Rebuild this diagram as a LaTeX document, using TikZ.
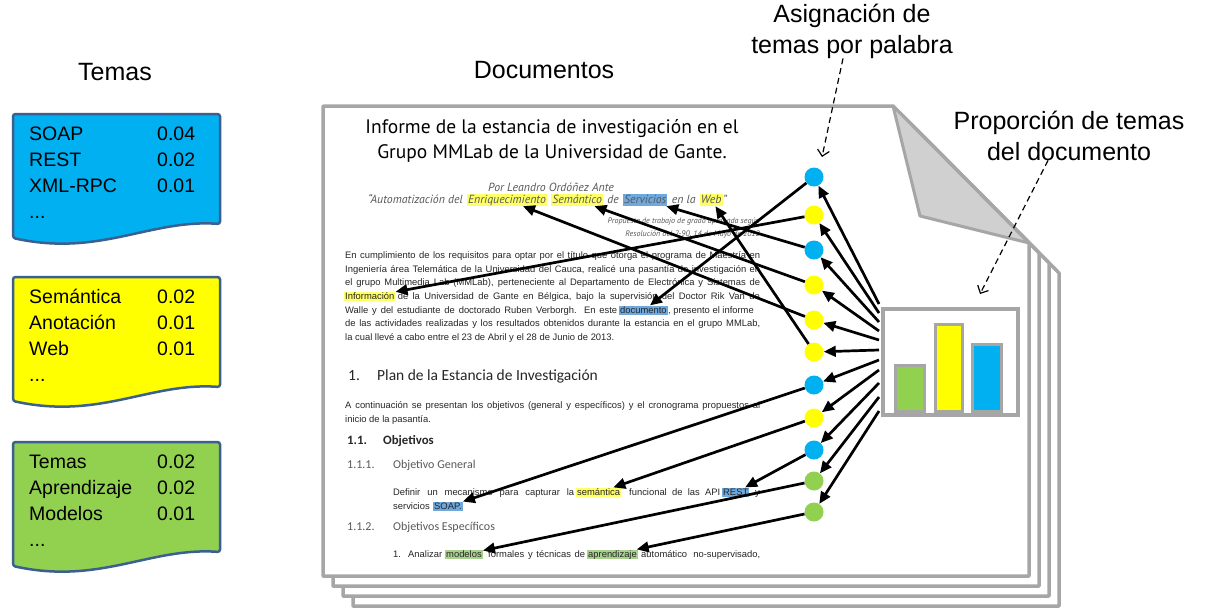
\documentclass[tikz,border=0pt]{standalone}
\usepackage{fontspec}
\setmainfont{Liberation Sans}
\newfontfamily\ptsans{PT Sans}
\newfontfamily\carlito{Carlito}
\usetikzlibrary{arrows.meta,calc}
\definecolor{pagegray}{HTML}{A6A6A6}
\definecolor{flapgray}{HTML}{D0D0D0}
\definecolor{tblue}{HTML}{00B0F0}
\definecolor{tyellow}{HTML}{FFFF00}
\definecolor{tgreen}{HTML}{92D050}
\definecolor{boxline}{HTML}{3B5F8E}
\definecolor{hlyellow}{HTML}{FFFF66}
\definecolor{hlblue}{HTML}{6FA8DC}
\definecolor{hlgreen}{HTML}{A9D18E}
\definecolor{doctext}{HTML}{262626}
\definecolor{subgray}{HTML}{595959}
\begin{document}
\begin{tikzpicture}[x=1pt,y=-1pt,
  arr/.style={line width=2.7pt,-{Triangle[length=12pt,width=10.5pt]}},
  dasharr/.style={line width=1.2pt,dash pattern=on 6pt off 4pt,-{Straight Barb[length=6pt,width=12pt,line width=1.2pt]}},
  page/.style={draw=pagegray,line width=3.5pt,fill=white,line join=round},
  dot/.style={circle,minimum size=19pt,inner sep=0,draw=none},
  w/.style={inner sep=0,anchor=base west},
  we/.style={inner sep=0,anchor=base east},
  wc/.style={inner sep=0,anchor=base},
  hl/.style={w,inner xsep=1pt,inner ysep=0pt,text height=7.4pt,text depth=2.4pt},
  hls/.style={w,inner xsep=1pt,inner ysep=0pt,text height=9pt,text depth=3pt},
  big/.style={font=\fontsize{25}{30}\selectfont,inner sep=0,anchor=base},
  boxtxt/.style={font=\fontsize{19.5}{24}\selectfont,inner sep=0,anchor=base west},
  body/.style={font=\fontsize{9.4}{11}\selectfont,text=doctext},
  bar/.style={draw=pagegray,line width=3pt,inner sep=0,anchor=south},
  topicbox/.style={draw=boxline,line width=2.5pt,rounded corners=2.5pt}
]
\useasboundingbox (0,0) rectangle (1209,613);
\fill[white] (0,0) rectangle (1209,613);

% headings
\node[big] (hTemas) at (115,80) {Temas};
\node[big] (hDocs) at (544,78) {Documentos};
\node[big] (asig1) at (852,22) {Asignación de};
\node[big] (asig2) at (852,53) {temas por palabra};
\node[big] (prop1) at (1069,129) {Proporción de temas};
\node[big] (prop2) at (1069,160) {del documento};

% topic boxes
\foreach \T/\c in {114/tblue,277/tyellow,442/tgreen}
  \draw[topicbox,fill=\c] (13,\T) -- (220,\T) -- (220,\T+110) .. controls (150,\T+105) and (100,\T+143) .. (13,\T+124) -- cycle;
\node[boxtxt] (k1) at (29,140) {SOAP};        \node[boxtxt] (v1) at (157,140) {0.04};
\node[boxtxt] (k2) at (29,166) {REST};        \node[boxtxt] (v2) at (157,166) {0.02};
\node[boxtxt] (k3) at (29,192) {XML-RPC};     \node[boxtxt] (v3) at (157,192) {0.01};
\node[boxtxt] (k4) at (29,218) {...};
\node[boxtxt] (k5) at (29,303) {Semántica};   \node[boxtxt] (v5) at (157,303) {0.02};
\node[boxtxt] (k6) at (29,329) {Anotación};   \node[boxtxt] (v6) at (157,329) {0.01};
\node[boxtxt] (k7) at (29,355) {Web};         \node[boxtxt] (v7) at (157,355) {0.01};
\node[boxtxt] (k8) at (29,381) {...};
\node[boxtxt] (k9) at (29,468) {Temas};       \node[boxtxt] (v9) at (157,468) {0.02};
\node[boxtxt] (k10) at (29,494) {Aprendizaje};\node[boxtxt] (v10) at (157,494) {0.02};
\node[boxtxt] (k11) at (29,520) {Modelos};    \node[boxtxt] (v11) at (157,520) {0.01};
\node[boxtxt] (k12) at (29,546) {...};

% stacked pages
\foreach \k in {3,2,1}
  \draw[page,shift={(10*\k,10*\k)}] (323,106) -- (893,106) -- (1029,243) -- (1029,576) -- (323,576) -- cycle;
\draw[page] (323,106) -- (893,106) -- (1029,243) -- (1029,576) -- (323,576) -- cycle;
\draw[draw=pagegray,fill=flapgray,line width=3pt,line join=round] (893,106) -- (920,216) -- (1029,243) -- cycle;

% document title
\node[wc,font={\ptsans\fontsize{19.5}{21}\selectfont}] (t1) at (552,133) {Informe de la estancia de investigación en el};
\node[wc,font={\ptsans\fontsize{19.5}{21}\selectfont}] (t2) at (552,158) {Grupo MMLab de la Universidad de Gante.};
\begin{scope}[font={\ptsans\itshape\fontsize{11.8}{12}\selectfont},text=subgray]
\node[wc] (auth) at (551,191) {Por Leandro Ordóñez Ante};
\node[w] (st1) at (368,203) {“Automatización del};
\node[hls,fill=hlyellow] (wEnr) at ([xshift=4pt]st1.base east) {Enriquecimiento};
\node[hls,fill=hlyellow] (wSem) at ([xshift=4pt]wEnr.base east) {Semántico};
\node[w] (st2) at ([xshift=4pt]wSem.base east) {de};
\node[hls,fill=hlblue] (wSer) at ([xshift=4pt]st2.base east) {Servicios};
\node[w] (st3) at ([xshift=4pt]wSer.base east) {en la};
\node[hls,fill=hlyellow] (wWeb) at ([xshift=4pt]st3.base east) {Web};
\node[w] (st4) at (wWeb.base east) {”};
\end{scope}
\begin{scope}[font={\ptsans\itshape\fontsize{8}{9}\selectfont},text=subgray]
\node[we] (prp) at (760,223) {Propuesta de trabajo de grado aprobada según};
\node[we] (res) at (760,236) {Resolución del 2-90, 14 de Mayo de 2012};
\end{scope}

% paragraph
\begin{scope}[body]
\node[w] (p1) at (345,258) {\makebox[415pt][s]{En cumplimiento de los requisitos para optar por el título que otorga el programa de Maestría en}};
\node[w] (p2) at (345,272) {\makebox[415pt][s]{Ingeniería área Telemática de la Universidad del Cauca, realicé una pasantía de investigación en}};
\node[w] (p3) at (345,285.5) {\makebox[415pt][s]{el grupo Multimedia Lab (MMLab), perteneciente al Departamento de Electrónica y Sistemas de}};
\node[hl,fill=hlyellow] (wInf) at (344,299) {Información};
\node[we] (p4) at (760,299) {\makebox[362pt][s]{de la Universidad de Gante en Bélgica, bajo la supervisión del Doctor Rik Van de}};
\node[w] (p5a) at (345,313) {\makebox[272pt][s]{Walle y del estudiante de doctorado Ruben Verborgh. En este}};
\node[hl,fill=hlblue] (wDoc) at (619,313) {documento};
\node[w] (p5b) at (wDoc.base east) {, presento el informe};
\node[w] (p6) at (345,326.5) {\makebox[415pt][s]{de las actividades realizadas y los resultados obtenidos durante la estancia en el grupo MMLab,}};
\node[w] (p7) at (345,340) {la cual llevé a cabo entre el 23 de Abril y el 28 de Junio de 2013.};

\node[w,font={\carlito\fontsize{15.5}{17}\selectfont}] (h1n) at (348,380) {1.};
\node[w,font={\carlito\fontsize{15.5}{17}\selectfont}] (h1) at (377,380) {Plan de la Estancia de Investigación};
\node[w] (p8) at (345,408) {\makebox[415pt][s]{A continuación se presentan los objetivos (general y específicos) y el cronograma propuestos al}};
\node[w] (p9) at (345,422) {inicio de la pasantía.};
\node[w,font={\carlito\bfseries\fontsize{12.8}{14}\selectfont}] (h2n) at (347,444) {1.1.};
\node[w,font={\carlito\bfseries\fontsize{12.8}{14}\selectfont}] (h2) at (383,444) {Objetivos};
\node[w,font={\carlito\fontsize{12}{14}\selectfont},text=subgray] (h3n) at (347,468) {1.1.1.};
\node[w,font={\carlito\fontsize{12}{14}\selectfont},text=subgray] (h3) at (393,468) {Objetivo General};

\node[w] (d1) at (393,495) {\makebox[181pt][s]{Definir un mecanismo para capturar la}};
\node[hl,fill=hlyellow] (wSema) at (576,495) {semántica};
\node[w] (d2) at (629,495) {\makebox[91pt][s]{funcional de las API}};
\node[hl,fill=hlblue] (wRest) at (722,495) {REST};
\node[we] (d3) at (760,495) {y};
\node[w] (d4) at (393,509) {servicios};
\node[hl,fill=hlblue] (wSoap) at ([xshift=3pt]d4.base east) {SOAP.};

\node[w,font={\carlito\fontsize{12}{14}\selectfont},text=subgray] (h4n) at (347,530) {1.1.2.};
\node[w,font={\carlito\fontsize{12}{14}\selectfont},text=subgray] (h4) at (393,530) {Objetivos Específicos};

\node[w] (a0) at (393,557) {1.};
\node[w] (a1) at (408,557) {Analizar};
\node[hl,fill=hlgreen] (wMod) at (445,557) {modelos};
\node[w] (a2) at (488,557) {\makebox[97pt][s]{formales y técnicas de}};
\node[hl,fill=hlgreen] (wApr) at (587,557) {aprendizaje};
\node[w] (a3) at (641,557) {\makebox[119pt][s]{automático no-supervisado,}};
\end{scope}

% chart
\node[draw=pagegray,line width=3.5pt,fill=white,minimum width=135pt,minimum height=106pt,inner sep=0,anchor=north west] (chart) at (881,307) {};
\node[bar,fill=tgreen,minimum width=29pt,minimum height=46pt] (bg) at (909.5,413) {};
\node[bar,fill=tyellow,minimum width=27pt,minimum height=87pt] (by) at (948.5,413) {};
\node[bar,fill=tblue,minimum width=29pt,minimum height=67pt] (bb) at (986.5,413) {};

% circles
\foreach \i/\y/\c in {1/177/tblue,2/215/tyellow,3/250/tblue,4/285/tyellow,5/320/tyellow,6/352/tyellow,7/385/tblue,8/418/tyellow,9/450/tblue,10/481/tgreen,11/512/tgreen}
  \node[dot,fill=\c] (c\i) at (814,\y) {};

% arrows chart -> circles
\foreach \i/\y in {1/304,2/313,3/322,4/331,5/340,6/350,7/360,8/370,9/383,10/397,11/411}{
  \coordinate (s\i) at (879,\y);
  \draw[arr] (s\i) -- (c\i);
}

% arrows circles -> words
\draw[arr] (c1) -- (wDoc);
\draw[arr] (c2) -- (wInf);
\draw[arr] (c3) -- (wSer);
\draw[arr] (c4) -- (wSem);
\draw[arr] (c5) -- (wEnr);
\draw[arr] (c6) -- (wWeb);
\draw[arr] (c7) -- (wSoap);
\draw[arr] (c8) -- (wSema);
\draw[arr] (c9) -- (wRest);
\draw[arr] (c10) -- (wMod);
\draw[arr] (c11) -- (wApr);

% dashed callouts
\coordinate (asigtip) at (822,157);
\draw[dasharr] ([xshift=-9pt]asig2.south) -- (asigtip);
\coordinate (proptip) at (980,294);
\draw[dasharr] ([xshift=-21pt]prop2.south) -- (proptip);
\end{tikzpicture}
\end{document}
